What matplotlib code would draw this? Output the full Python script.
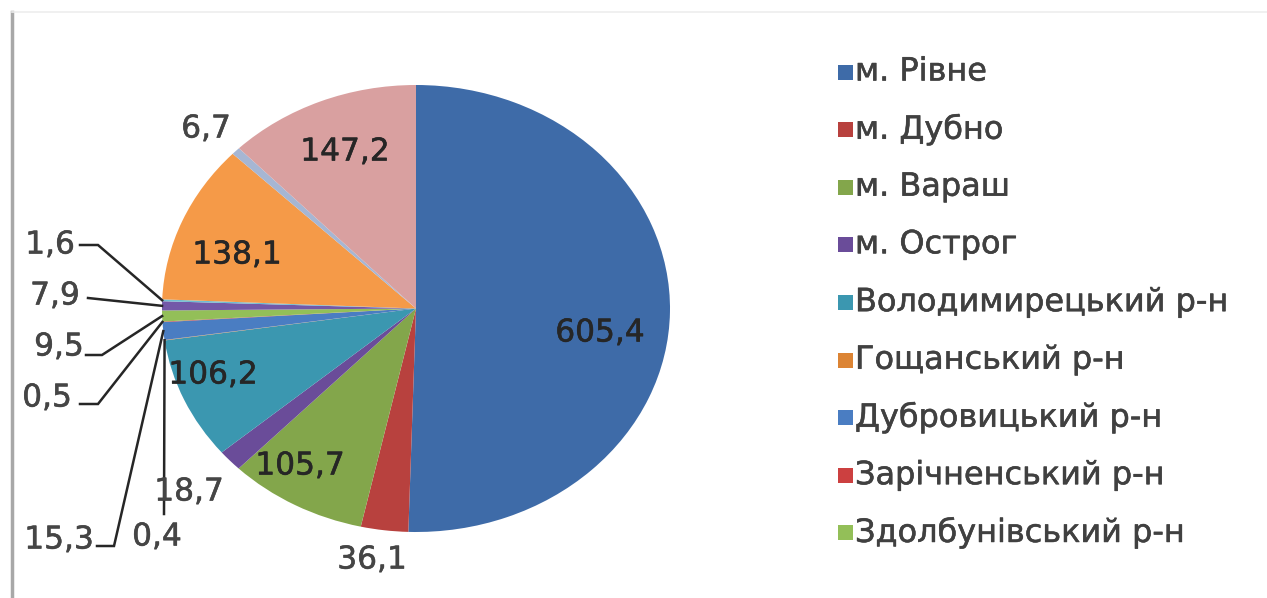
import matplotlib
matplotlib.use("Agg")
import matplotlib.pyplot as plt
from matplotlib.patches import Rectangle
from matplotlib.lines import Line2D
import matplotlib.patheffects as pe
import numpy as np

# ---------------- data ----------------
categories = ["м. Рівне", "м. Дубно", "м. Вараш", "м. Острог",
              "Володимирецький р-н", "Гощанський р-н", "Дубровицький р-н",
              "Зарічненський р-н", "Здолбунівський р-н", "Корецький р-н",
              "Костопільський р-н", "Млинівський р-н", "Радивилівський р-н",
              "Рівненський р-н"]
values = [605.4, 36.1, 105.7, 18.7, 106.2, 0.4, 15.3, 0.5, 9.5, 7.9, 1.6,
          138.1, 6.7, 147.2]
legend_count = 9  # only the first 9 entries are visible in the legend

colors = ["#3E6BA8", "#B8413E", "#83A64B", "#6A4C99", "#3B97B0", "#DC8434",
          "#4A7DC2", "#CC4040", "#93BF58", "#7358A8", "#6FBDD1", "#F59A48",
          "#A6B6D3", "#D9A0A0"]

# ---------------- layout (pixels) ----------------
W, H = 1267, 598
CX, CY, RX, RY = 416, 308.5, 254, 223.5

# label centre positions in pixels, per slice
label_pos = [(600, 333), (372, 560), (300, 466), (189, 492), (213, 375),
             (157, 537), (59, 540), (47, 398), (59, 347), (55, 296),
             (50, 245), (237, 255), (206, 129), (345, 152)]
# leader line knots (pixels) from label side to the pie, per slice
leaders = {5: [(164, 514)], 6: [(97, 546), (114, 546)],
           7: [(80, 404), (98, 404)], 8: [(86, 355), (102, 355)],
           9: [(88, 298)], 10: [(80, 245), (98, 245)]}
inside = {0, 2, 4, 11, 13}


def to_data(px, py):
    return (px - CX) / RX, (CY - py) / RY


fig = plt.figure(figsize=(W / 100, H / 100), dpi=100)
fig.patch.set_facecolor("white")
ax = fig.add_axes([(CX - RX) / W, (H - CY - RY) / H, 2 * RX / W, 2 * RY / H])
wedges, _ = ax.pie(values, colors=colors, startangle=90, counterclock=False,
                   wedgeprops=dict(linewidth=0))
ax.set_aspect("auto")
ax.set_xlim(-1, 1)
ax.set_ylim(-1, 1)
ax.axis("off")

for i, (v, w) in enumerate(zip(values, wedges)):
    txt = f"{v:.1f}".replace(".", ",")
    lx, ly = to_data(*label_pos[i])
    col = "#262626" if i in inside else "#454545"
    ax.text(lx, ly, txt, ha="center", va="center", fontsize=22.5,
            color=col, clip_on=False,
            path_effects=[pe.withStroke(linewidth=0.4, foreground=col)])
    if i in leaders:
        mid = np.deg2rad((w.theta1 + w.theta2) / 2)
        ex, ey = np.cos(mid), np.sin(mid)
        pts = [to_data(*p) for p in leaders[i]] + [(ex, ey)]
        xs, ys = zip(*pts)
        ax.plot(xs, ys, color="#262626", lw=1.8, clip_on=False,
                solid_joinstyle="miter")

# legend (first entries, as visible in the reference)
y0, dy = 72, 57.6
for i in range(legend_count):
    yc = y0 + i * dy
    fig.add_artist(Rectangle((838 / W, 1 - (yc + 7.5) / H), 15 / W, 15 / H,
                             transform=fig.transFigure,
                             facecolor=colors[i], edgecolor="none"))
    fig.text(855 / W, 1 - yc / H, categories[i], ha="left", va="center",
             fontsize=23, color="#404040",
             path_effects=[pe.withStroke(linewidth=0.4, foreground="#404040")])

# frame remnants
fig.add_artist(Line2D([12 / W, 12 / W], [0, 1 - 12 / H], transform=fig.transFigure,
                      color="#A8A8A8", lw=2.5))
fig.add_artist(Line2D([12 / W, 1], [1 - 12 / H, 1 - 12 / H], transform=fig.transFigure,
                      color="#EDEDED", lw=1.2))

fig.savefig("out.png", dpi=100, facecolor="white")
